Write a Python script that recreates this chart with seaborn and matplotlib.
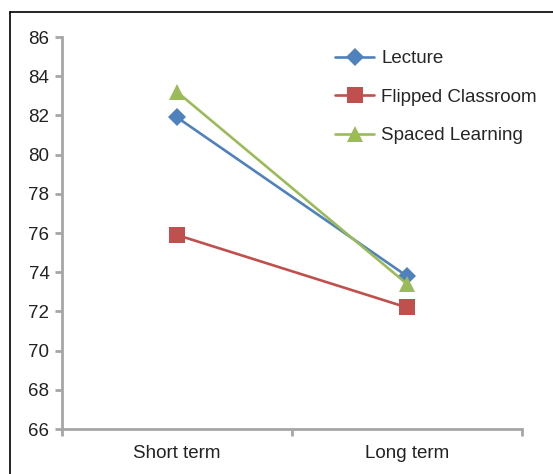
import pandas as pd
import seaborn as sns
import matplotlib.pyplot as plt
from matplotlib.lines import Line2D

terms = ["Short term", "Long term"]
lecture = [81.9, 73.8]
flipped = [75.9, 72.2]
spaced = [83.2, 73.4]
groups = ["Lecture", "Flipped Classroom", "Spaced Learning"]

df = pd.DataFrame({
    "term": terms * 3,
    "score": lecture + flipped + spaced,
    "group": [g for g in groups for _ in terms],
})

sns.set_style("white")
plt.rcParams["font.family"] = ["Liberation Sans", "DejaVu Sans"]

fig = plt.figure(figsize=(5.53, 4.74), dpi=100)
ax = fig.add_axes([0.1121, 0.0949, 0.944 - 0.1121, 0.9219 - 0.0949])

palette = {"Lecture": "#4F81BD", "Flipped Classroom": "#C0504D", "Spaced Learning": "#9BBB59"}
markers = {"Lecture": "D", "Flipped Classroom": "s", "Spaced Learning": "^"}
sizes = {"Lecture": 9.5, "Flipped Classroom": 11, "Spaced Learning": 12}

for g in groups:
    sub = df[df.group == g]
    sns.lineplot(data=sub, x="term", y="score", color=palette[g], marker=markers[g],
                 markersize=sizes[g], markeredgewidth=0, linewidth=1.9, sort=False,
                 ax=ax, label=g)

ax.set_xlim(-0.5, 1.5)
ax.set_ylim(66, 86)
ax.set_yticks(range(66, 87, 2))
ax.set_xticks([0, 1])
ax.set_xticklabels(terms)
ax.set_xticks([-0.5, 0.5, 1.5], minor=True)
ax.set_xlabel("")
ax.set_ylabel("")

fs = 13.5
axis_color = "#A6A6A6"
for side in ["top", "right"]:
    ax.spines[side].set_visible(False)
for side in ["left", "bottom"]:
    ax.spines[side].set_color(axis_color)
    ax.spines[side].set_linewidth(2)
ax.tick_params(axis="y", which="major", left=True, length=5, width=2, color=axis_color,
               labelsize=fs, labelcolor="#222222", pad=4)
ax.tick_params(axis="x", which="major", bottom=False, labelsize=fs, labelcolor="#222222", pad=8)
ax.tick_params(axis="x", which="minor", bottom=True, length=5, width=2, color=axis_color)

handles = [Line2D([], [], color=palette[g], marker=markers[g], markersize=sizes[g],
                  markeredgewidth=0, linewidth=1.9) for g in groups]
ax.legend(handles, groups, loc="upper left", bbox_to_anchor=(0.573, 0.99), frameon=False,
          fontsize=fs, labelspacing=1.13, handlelength=2.1, handletextpad=0.37, borderpad=0)

# border around the figure (top and left visible)
fig.add_artist(Line2D([10 / 553, 1], [1 - 12 / 474, 1 - 12 / 474], color="black", linewidth=1.2,
                      transform=fig.transFigure))
fig.add_artist(Line2D([10 / 553, 10 / 553], [0, 1 - 12 / 474], color="black", linewidth=1.2,
                      transform=fig.transFigure))

fig.savefig("out.png", dpi=100)
